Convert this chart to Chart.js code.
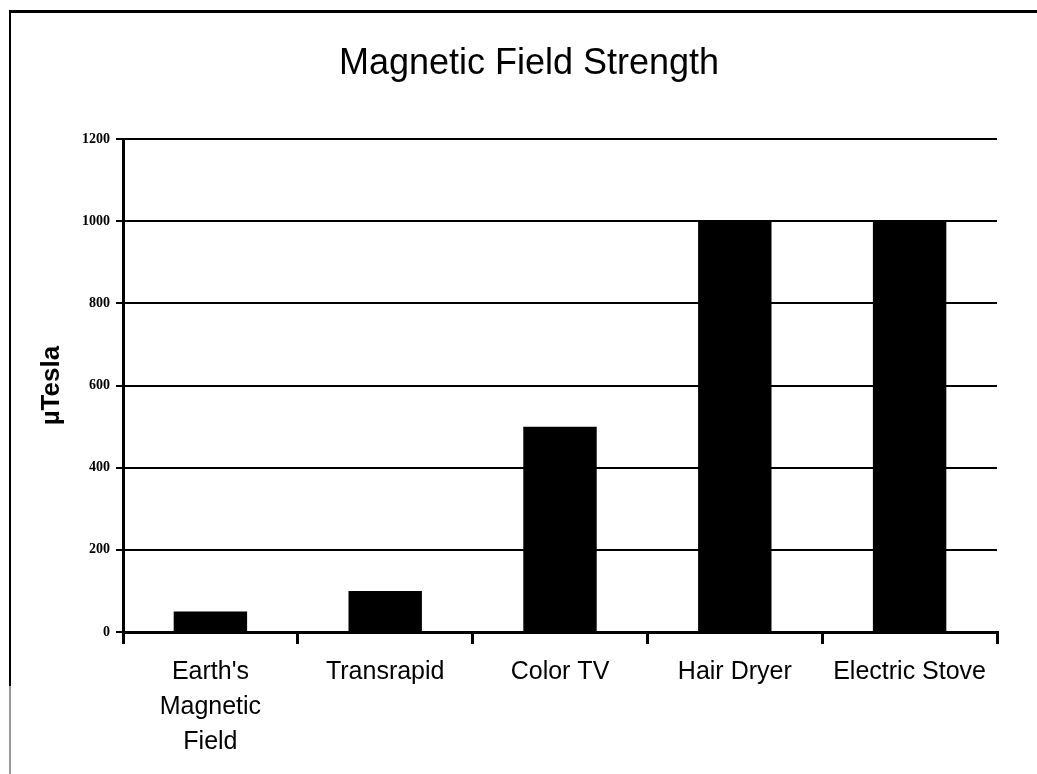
<!DOCTYPE html>
<html>
<head>
<meta charset="utf-8">
<script src="https://cdn.jsdelivr.net/npm/chart.js@4"></script>
<style>
    html, body { margin: 0; padding: 0; background: #fff; }
    #wrap { position: relative; width: 1037px; height: 774px; overflow: hidden; }
    #chart { position: absolute; left: 0; top: 0; }
    .frame-top { position: absolute; left: 9px; top: 10px; width: 1028px; height: 3px; background: #000; }
    .frame-left { position: absolute; left: 9px; top: 10px; width: 2px; height: 676px; background: #000; }
    .frame-left-low { position: absolute; left: 9px; top: 686px; width: 2px; height: 88px; background: #999; }
</style>
</head>
<body>
<div id="wrap">
    <canvas id="chart" width="1037" height="774"></canvas>
    <div class="frame-top"></div>
    <div class="frame-left"></div>
    <div class="frame-left-low"></div>
</div>
<script>
// chart data
const categories = [["Earth's", 'Magnetic', 'Field'], 'Transrapid', 'Color TV', 'Hair Dryer', 'Electric Stove'];
const fieldValues = [50, 100, 500, 1000, 1000];
const yMin = 0;
const yMax = 1200;
const yStep = 200;

const ctx = document.getElementById('chart').getContext('2d');

new Chart(ctx, {
    type: 'bar',
    data: {
        labels: categories,
        datasets: [{
            label: 'µTesla',
            data: fieldValues,
            backgroundColor: '#000',
            borderWidth: 0,
            barPercentage: 0.42,
            categoryPercentage: 1
        }]
    },
    options: {
        responsive: false,
        animation: false,
        layout: {
            padding: { left: 61, right: 40, top: 0, bottom: 0 }
        },
        plugins: {
            legend: { display: false },
            tooltip: { enabled: false },
            title: {
                display: true,
                text: 'Magnetic Field Strength',
                color: '#000',
                font: { family: '"Liberation Sans", Arial, sans-serif', size: 36, weight: 'normal', lineHeight: 1.2 },
                padding: { top: 42, bottom: 54 }
            }
        },
        scales: {
            x: {
                afterFit: (s) => { s.height = 142; },
                border: { color: '#000', width: 3 },
                grid: {
                    drawOnChartArea: false,
                    drawTicks: true,
                    tickLength: 12,
                    color: '#000',
                    lineWidth: 3
                },
                ticks: {
                    color: '#000',
                    autoSkip: false,
                    maxRotation: 0,
                    padding: 11,
                    font: { family: '"Liberation Sans", Arial, sans-serif', size: 25, lineHeight: 1.4 }
                }
            },
            y: {
                min: yMin,
                max: yMax,
                afterFit: (s) => { s.width = 62; },
                border: { color: '#000', width: 3 },
                grid: {
                    color: '#000',
                    lineWidth: 2,
                    tickLength: 7
                },
                ticks: {
                    stepSize: yStep,
                    color: '#000',
                    padding: 6,
                    callback: (v) => String(v),
                    font: { family: '"Liberation Serif", "Times New Roman", serif', size: 14, weight: 'bold' }
                },
                title: {
                    display: true,
                    text: 'µTesla',
                    color: '#000',
                    padding: { top: -25, bottom: 0 },
                    font: { family: '"Liberation Sans", Arial, sans-serif', size: 26, weight: 'bold', lineHeight: 1.2 }
                }
            }
        }
    }
});
</script>
</body>
</html>
